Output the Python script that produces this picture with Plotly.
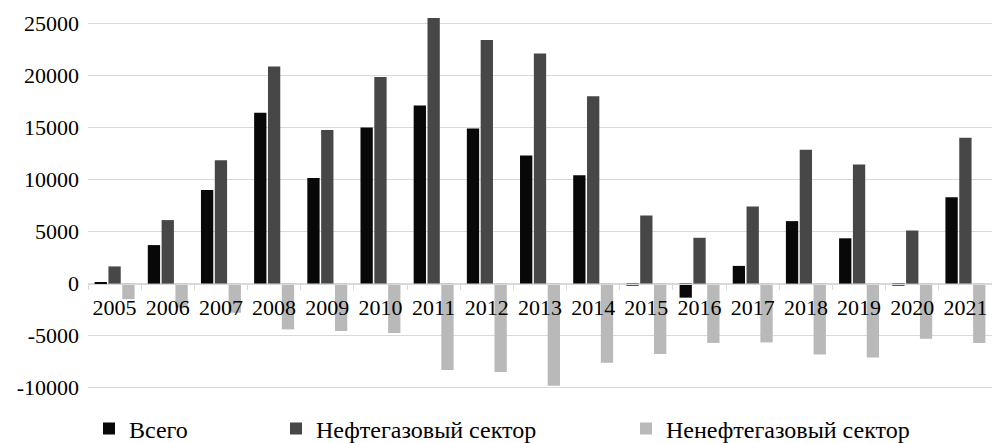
import plotly.graph_objects as go

years = ["2005", "2006", "2007", "2008", "2009", "2010", "2011", "2012", "2013",
         "2014", "2015", "2016", "2017", "2018", "2019", "2020", "2021"]
total = [150, 3700, 9000, 16400, 10150, 15000, 17100, 14900, 12300,
         10400, -200, -1350, 1700, 6000, 4350, -200, 8300]
oil_gas = [1650, 6100, 11850, 20850, 14750, 19850, 25500, 23400, 22100,
           18000, 6550, 4400, 7400, 12850, 11450, 5100, 14000]
non_oil_gas = [-1500, -2300, -2800, -4400, -4550, -4750, -8300, -8500, -9800,
               -7600, -6750, -5700, -5650, -6800, -7100, -5300, -5700]
series_names = ["Всего", "Нефтегазовый сектор", "Ненефтегазовый сектор"]
y_tick_vals = [-10000, -5000, 0, 5000, 10000, 15000, 20000, 25000]
y_tick_text = ["-10000", "-5000", "0", "5000", "10000", "15000", "20000", "25000"]

FONT = "Liberation Serif, Times New Roman, DejaVu Serif, serif"
colors = ["#080808", "#474747", "#b9b9b9"]
legends = ["legend", "legend2", "legend3"]

fig = go.Figure()
for name, vals, col, lg in zip(series_names, [total, oil_gas, non_oil_gas], colors, legends):
    fig.add_trace(go.Bar(x=years, y=vals, name=name, marker=dict(color=col, line=dict(width=0)),
                         legend=lg))

leg_common = dict(orientation="h", yanchor="middle", xanchor="left", y=-0.072,
                  font=dict(family=FONT, size=24, color="#000000"),
                  bgcolor="rgba(0,0,0,0)", borderwidth=0, itemwidth=30)

W, H = 992, 443
L, R, T, B = 88, 0, 0, 43
pw = W - L - R

def px_to_paper(xpx):
    return (xpx - L) / pw

fig.update_layout(
    width=W, height=H,
    margin=dict(l=L, r=R, t=T, b=B, pad=0, autoexpand=False),
    paper_bgcolor="white", plot_bgcolor="white",
    barmode="group", bargap=0.22, bargroupgap=0.11,
    font=dict(family=FONT, size=22, color="#000000"),
    showlegend=True,
    legend=dict(leg_common, x=px_to_paper(89)),
    legend2=dict(leg_common, x=px_to_paper(276)),
    legend3=dict(leg_common, x=px_to_paper(626)),
    xaxis=dict(type="category", anchor="free", position=(400 - 283.7) / 400,
               automargin=False, tickangle=0,
               showgrid=False, showline=True, linecolor="#d9d9d9", linewidth=1,
               ticks="outside", tickson="boundaries", ticklen=5, tickcolor="#d9d9d9",
               tickfont=dict(family=FONT, size=22, color="#000000"),
               ticklabelstandoff=4),
    yaxis=dict(range=[-11180, 27240], tickvals=y_tick_vals, ticktext=y_tick_text,
               automargin=False,
               showgrid=True, gridcolor="#d9d9d9", gridwidth=1,
               zeroline=True, zerolinecolor="#d9d9d9", zerolinewidth=1,
               showline=False, ticks="", ticklabelstandoff=8,
               tickfont=dict(family=FONT, size=22, color="#000000")),
)

fig.write_html("out.html", config={"displayModeBar": False},
               post_script="document.body.style.margin='0';document.body.style.overflow='hidden';")
